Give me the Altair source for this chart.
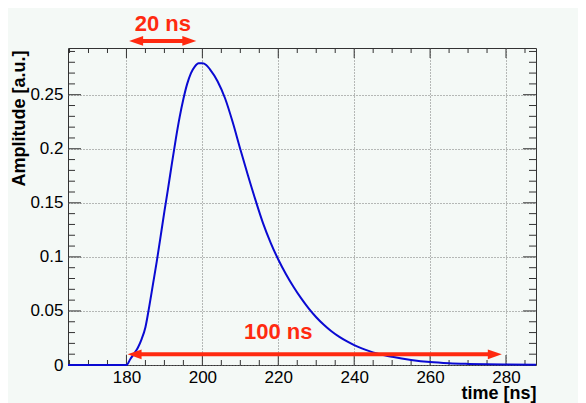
import altair as alt
import pandas as pd

# ---- data ----
time_ns = [164.6, 170, 175, 180, 181, 182, 183, 184, 185, 186, 187, 188, 189, 190,
           191, 192, 193, 194, 195, 196, 197, 198, 199, 200, 201, 202, 204, 206,
           208, 210, 212, 214, 216, 218, 220, 222, 224, 226, 228, 230, 232, 234,
           236, 238, 240, 242, 244, 246, 248, 250, 255, 260, 265, 270, 275, 280, 287.9]
amplitude = [0, 0, 0, 0, 0.0053, 0.0105, 0.0160, 0.024, 0.035, 0.054, 0.075, 0.096,
             0.119, 0.142, 0.164, 0.187, 0.209, 0.229, 0.246, 0.260, 0.270, 0.276,
             0.279, 0.279, 0.2775, 0.2735, 0.2625, 0.2465, 0.2245, 0.1995, 0.1755,
             0.1525, 0.131, 0.113, 0.0976, 0.0842, 0.0724, 0.0618, 0.0524, 0.0442,
             0.0372, 0.0312, 0.0262, 0.0220, 0.0184, 0.0154, 0.0128, 0.0107, 0.0090,
             0.0076, 0.0047, 0.0027, 0.0016, 0.0010, 0.0006, 0.0004, 0.0002]

x_domain = [164.6, 287.9]
y_domain = [0, 0.2932]
x_major = [180, 200, 220, 240, 260, 280]
x_minor = [165, 170, 175, 185, 190, 195, 205, 210, 215, 225, 230, 235, 245, 250,
           255, 265, 270, 275, 285]
y_major = [0, 0.05, 0.1, 0.15, 0.2, 0.25]
y_minor = [0.01, 0.02, 0.03, 0.04, 0.06, 0.07, 0.08, 0.09, 0.11, 0.12, 0.13, 0.14,
           0.16, 0.17, 0.18, 0.19, 0.21, 0.22, 0.23, 0.24, 0.26, 0.27, 0.28, 0.29]

# annotations: arrows (tips, shafts) and labels
arrow_labels = ["20 ns", "100 ns"]
arrow_left_tip = [180.7, 180.3]
arrow_right_tip = [198.4, 278.9]
shaft_start = [183.3, 182.9]
shaft_end = [195.8, 276.3]
arrow_level = [0.2997, 0.0099]
label_x = [189.6, 220.0]
label_y = [0.3156, 0.0305]

W, H = 468, 317
FONT = "Liberation Sans"
RED = "#ff2a10"
BLUE = "#0a0ad2"

xs = alt.Scale(domain=x_domain, nice=False, zero=False)
ys = alt.Scale(domain=y_domain, nice=False, zero=False)

x_axis = alt.Axis(values=x_major, format="d", title="time [ns]", grid=True,
                  ticks=False, tickSize=0, domain=False, labelPadding=4,
                  labelFontSize=17, labelFont=FONT, labelColor="#000",
                  titleFont=FONT, titleFontSize=18, titleFontWeight="bold",
                  titleColor="#000", titleX=W, titleY=33, titleAlign="right",
                  titleBaseline="alphabetic")
y_axis = alt.Axis(values=y_major, format="~g", title="Amplitude [a.u.]", grid=True,
                  ticks=False, tickSize=0, domain=False, labelPadding=5,
                  labelFontSize=17, labelFont=FONT, labelColor="#000",
                  titleFont=FONT, titleFontSize=18, titleFontWeight="bold",
                  titleColor="#000", titleAngle=270, titleX=-44, titleY=2,
                  titleAlign="right", titleBaseline="alphabetic")

X = lambda f="t": alt.X(f"{f}:Q", scale=xs, axis=x_axis)
Y = lambda f="a": alt.Y(f"{f}:Q", scale=ys, axis=y_axis)

curve_df = pd.DataFrame({"t": time_ns, "a": amplitude})
curve = alt.Chart(curve_df).mark_line(color=BLUE, strokeWidth=2,
                                      interpolate="monotone").encode(x=X(), y=Y())

xmaj = pd.DataFrame({"t": x_major})
xmin = pd.DataFrame({"t": x_minor})
ymaj = pd.DataFrame({"a": y_major})
ymin = pd.DataFrame({"a": y_minor})
tick_color = "#333"

def xticks(df, length):
    bottom = alt.Chart(df).mark_rule(color=tick_color, strokeWidth=1).encode(
        x=X(), y=alt.value(H), y2=alt.value(H - length))
    top = alt.Chart(df).mark_rule(color=tick_color, strokeWidth=1).encode(
        x=X(), y=alt.value(0), y2=alt.value(length))
    return [bottom, top]

def yticks(df, length):
    left = alt.Chart(df).mark_rule(color=tick_color, strokeWidth=1).encode(
        y=Y(), x=alt.value(0), x2=alt.value(length))
    right = alt.Chart(df).mark_rule(color=tick_color, strokeWidth=1).encode(
        y=Y(), x=alt.value(W), x2=alt.value(W - length))
    return [left, right]

ticks = xticks(xmaj, 10) + xticks(xmin, 5) + yticks(ymaj, 13) + yticks(ymin, 7)

shaft_df = pd.DataFrame({"t": shaft_start, "t2": shaft_end, "a": arrow_level})
shafts = alt.Chart(shaft_df).mark_rule(color=RED, strokeWidth=4).encode(
    x=X(), x2="t2:Q", y=Y())

left_df = pd.DataFrame({"t": arrow_left_tip, "a": arrow_level})
right_df = pd.DataFrame({"t": arrow_right_tip, "a": arrow_level})
left_heads = alt.Chart(left_df).mark_point(
    shape="M2,-0.7L0,0L2,0.7Z", filled=True, size=196, color=RED, opacity=1,
    strokeWidth=0).encode(x=X(), y=Y())
right_heads = alt.Chart(right_df).mark_point(
    shape="M-2,-0.7L0,0L-2,0.7Z", filled=True, size=196, color=RED, opacity=1,
    strokeWidth=0).encode(x=X(), y=Y())

label_df = pd.DataFrame({"t": label_x, "a": label_y, "label": arrow_labels})
labels = alt.Chart(label_df).mark_text(
    color=RED, font=FONT, fontSize=22, fontWeight="bold", align="center",
    baseline="middle").encode(x=X(), y=Y(), text="label:N")

chart = alt.layer(*ticks, curve, shafts, left_heads, right_heads, labels).properties(
    width=W, height=H,
    autosize=alt.AutoSizeParams(type="none"),
    padding={"left": 60, "top": 40, "right": 42, "bottom": 40},
    background="#f4f9f6",
).configure_view(stroke="#333", strokeWidth=1).configure_axis(
    gridColor="#777", gridDash=[1, 2], gridOpacity=1, gridWidth=1)

chart.save("out.html", embed_options={"renderer": "svg", "actions": False})
